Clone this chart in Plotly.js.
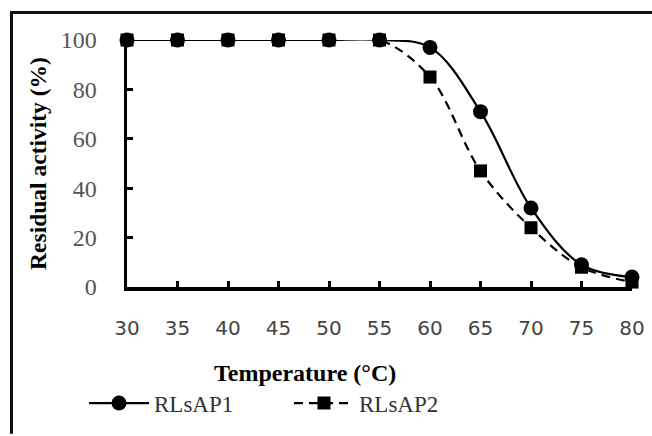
<!DOCTYPE html>
<html>
<head>
<meta charset="utf-8">
<script src="https://cdn.plot.ly/plotly-3.0.1.min.js"></script>
<style>
html,body{margin:0;padding:0;background:#fff;}
#chart{width:652px;height:436px;}
</style>
</head>
<body>
<div id="chart"></div>
<script>
var temperature = [30, 35, 40, 45, 50, 55, 60, 65, 70, 75, 80];
var rlsap1 = [100, 100, 100, 100, 100, 100, 97, 71, 32, 9, 4];
var rlsap2 = [100, 100, 100, 100, 100, 100, 85, 47, 24, 8, 2];
var seriesNames = ['RLsAP1', 'RLsAP2'];
var xTickVals = [30, 35, 40, 45, 50, 55, 60, 65, 70, 75, 80];
var yTickVals = [0, 20, 40, 60, 80, 100];

var traces = [
  {
    x: temperature, y: rlsap1, name: seriesNames[0], type: 'scatter', mode: 'lines+markers',
    line: {color: '#000', width: 2.2, shape: 'spline', smoothing: 1},
    marker: {symbol: 'circle', size: 15, color: '#000'},
    cliponaxis: false
  },
  {
    x: temperature, y: rlsap2, name: seriesNames[1], type: 'scatter', mode: 'lines+markers',
    line: {color: '#000', width: 2.2, shape: 'spline', smoothing: 1, dash: '9px,6px'},
    marker: {symbol: 'square', size: 13, color: '#000'},
    cliponaxis: false
  }
];

var L = 127, R = 632, T = 40, B = 291;
function px2x(p){ return (p - L) / (R - L); }
function px2y(p){ return (B - p) / (B - T); }

var layout = {
  width: 652, height: 436,
  margin: {l: L, r: 652 - R, t: T, b: 436 - B},
  paper_bgcolor: '#fff', plot_bgcolor: '#fff',
  showlegend: true,
  legend: {
    orientation: 'h', x: px2x(84), xanchor: 'left', y: px2y(409), yanchor: 'middle',
    font: {family: 'Liberation Serif', size: 23, color: '#333'},
    itemwidth: 60, entrywidth: 130, entrywidthmode: 'pixels',
    bgcolor: 'rgba(0,0,0,0)'
  },
  xaxis: {
    range: [30, 80], tickvals: xTickVals, ticktext: xTickVals.map(String),
    showline: true, linecolor: '#000', linewidth: 3.5,
    ticks: 'inside', ticklen: 6, tickwidth: 3, tickcolor: '#000',
    showgrid: false, zeroline: false,
    ticklabelstandoff: 20,
    tickfont: {family: 'DejaVu Sans', size: 20, color: '#444'}
  },
  yaxis: {
    range: [0, 100], tickvals: yTickVals,
    showline: true, linecolor: '#000', linewidth: 3.5,
    ticks: 'inside', ticklen: 6, tickwidth: 3, tickcolor: '#000',
    showgrid: false, zeroline: false,
    ticklabelstandoff: 22,
    tickfont: {family: 'Liberation Serif', size: 24, color: '#555'},
    title: {text: 'Residual activity (%)', font: {family: 'Liberation Serif', size: 23.5, color: '#000', weight: 'bold'}, standoff: 8}
  },
  annotations: [
    {
      xref: 'paper', yref: 'paper', x: px2x(305), y: px2y(378), xanchor: 'center', yanchor: 'middle',
      text: '<b>Temperature (°C)</b>', showarrow: false,
      font: {family: 'Liberation Serif', size: 24, color: '#000'}
    }
  ],
  shapes: [
    {type: 'line', xref: 'paper', yref: 'paper', x0: px2x(11.5), x1: px2x(11.5), y0: px2y(11), y1: px2y(440), line: {color: '#111', width: 3}},
    {type: 'line', xref: 'paper', yref: 'paper', x0: px2x(10), x1: px2x(660), y0: px2y(12), y1: px2y(12), line: {color: '#111', width: 3}}
  ]
};

Plotly.newPlot('chart', traces, layout, {displayModeBar: false, staticPlot: true});
</script>
</body>
</html>
